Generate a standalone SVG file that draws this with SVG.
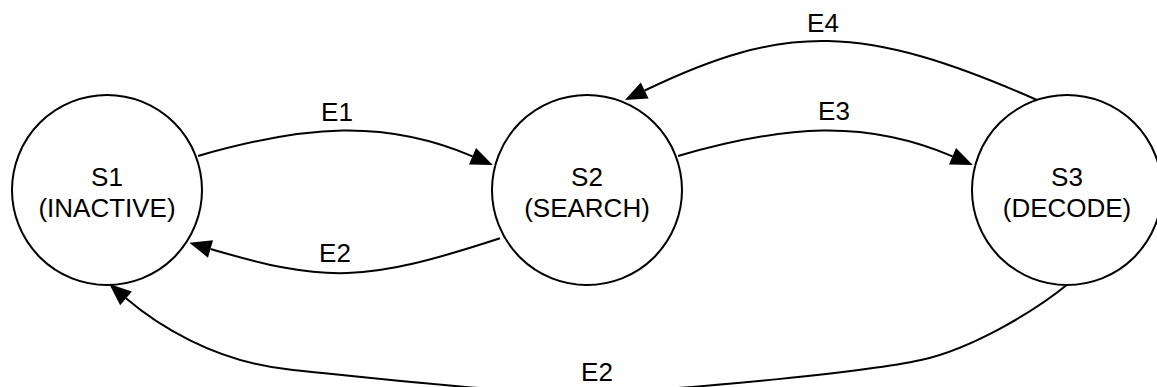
<svg xmlns="http://www.w3.org/2000/svg" width="1157" height="387" viewBox="0 0 1157 387">
<style>
.node circle{fill:#fff;stroke:#000;stroke-width:2}
text{font-family:"Liberation Sans",Arial,sans-serif;font-size:26px;fill:#000;text-anchor:middle}
.edge{fill:none;stroke:#000;stroke-width:2;marker-end:url(#arr)}
</style>
<defs>
<marker id="arr" markerUnits="userSpaceOnUse" markerWidth="24" markerHeight="20" refX="0" refY="9" orient="auto" overflow="visible">
<path d="M0,0 L22,9 L0,18 Z" fill="#000"/>
</marker>
</defs>
<rect width="1157" height="387" fill="#fff"/>
<g id="connectors">
<path class="edge" d="M198,156 C305,125 385,119 472.5,156.3"/>
<path class="edge" d="M678,156 C785,125 865,119 952.5,156.3"/>
<path class="edge" d="M500,238.3 C364,282.8 325.5,282.8 210.5,249"/>
<path class="edge" d="M1037,100 C862.4,23 784.7,23 644.7,90.5"/>
<path class="edge" d="M1068,284 C1033,312.5 971,349 921,360 C871,371 700,389 590,393 C520,395 353,376 293,370 C213,362.5 154,322.3 126,298.3"/>
<text x="337" y="121">E1</text>
<text x="335" y="262">E2</text>
<text x="834" y="120">E3</text>
<text x="823" y="32">E4</text>
<text x="597" y="381">E2</text>
</g>
<g id="S1" class="node">
<circle cx="107" cy="190" r="95"/>
<text x="107" y="186">S1</text>
<text x="107" y="217">(INACTIVE)</text>
</g>
<g id="S2" class="node">
<circle cx="587" cy="190" r="95"/>
<text x="587" y="186">S2</text>
<text x="587" y="217">(SEARCH)</text>
</g>
<g id="S3" class="node">
<circle cx="1067" cy="190" r="95"/>
<text x="1067" y="186">S3</text>
<text x="1067" y="217">(DECODE)</text>
</g>
</svg>
